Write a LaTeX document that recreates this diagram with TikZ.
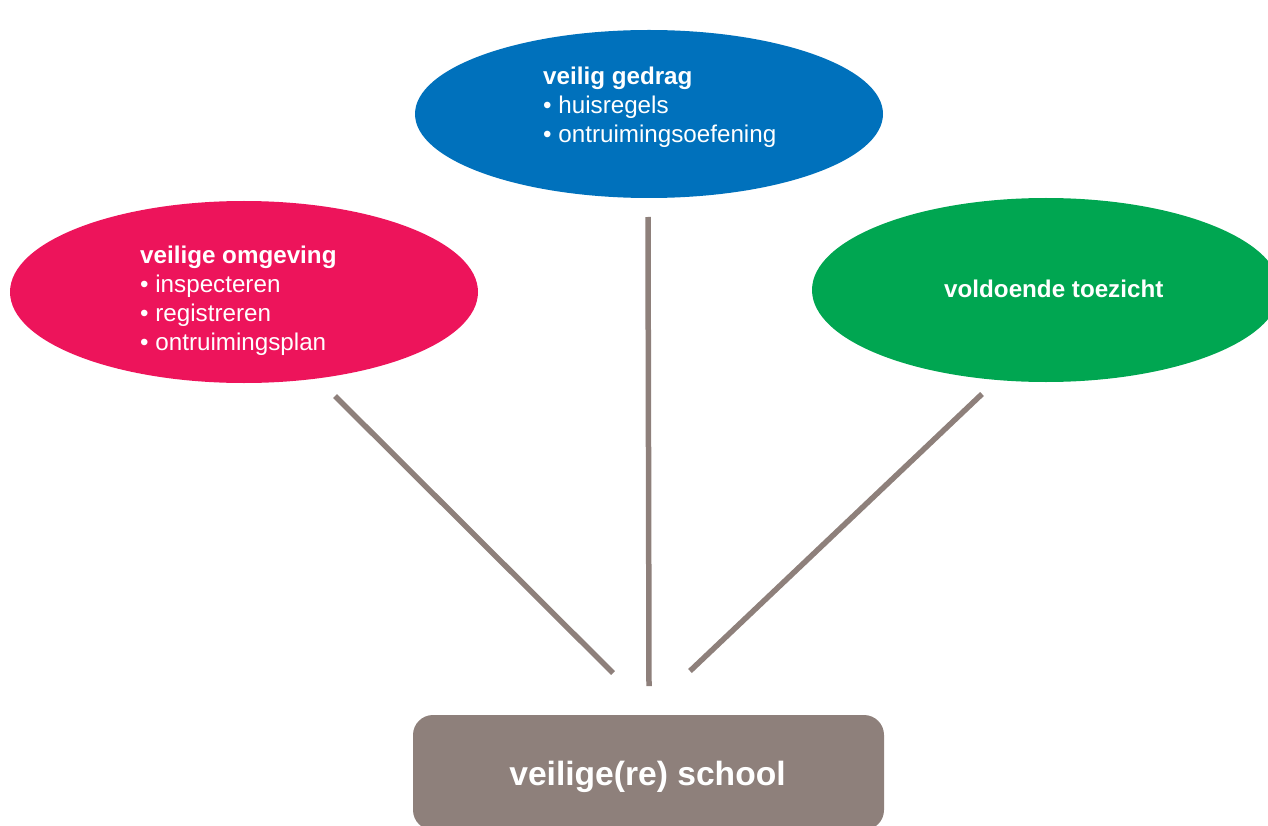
\documentclass[tikz,border=0pt]{standalone}
\usepackage{fontspec}
\setmainfont{Liberation Sans}
\usetikzlibrary{shapes.geometric}
\definecolor{cpink}{HTML}{ED145B}
\definecolor{cblue}{HTML}{0071BC}
\definecolor{cgreen}{HTML}{00A651}
\definecolor{cgrey}{HTML}{8E807B}
\tikzset{
  blob/.style={ellipse, inner sep=0pt, draw=none},
  lbl/.style={anchor=base west, inner sep=0pt, text=white, align=left,
    font=\fontsize{24.2}{29}\selectfont},
  link/.style={draw=cgrey, line width=5.5pt},
  schoolbox/.style={fill=cgrey, rounded corners=20pt, inner sep=0pt}
}
\begin{document}
\begin{tikzpicture}[x=1pt,y=-1pt]
\useasboundingbox (0,0) rectangle (1268,826);
\clip (0,0) rectangle (1268,826);
% ellipses
\node[blob, fill=cblue, minimum width=468pt, minimum height=168pt] (blue) at (649,114) {};
\node[blob, fill=cpink, minimum width=468pt, minimum height=182pt] (pink) at (244,292) {};
\node[blob, fill=cgreen, minimum width=468pt, minimum height=184pt] (green) at (1046,290) {};
% box
\path[schoolbox] (413,715) rectangle (884,830);
\node[anchor=base, inner sep=0pt, text=white, font=\fontsize{33.6}{40}\selectfont\bfseries] (school) at (647.5,785) {veilige(re) school};
% texts (base anchor = baseline of last line)
\node[lbl] (tblue) at (543,143) {\textbf{veilig gedrag}\\• huisregels\\• ontruimingsoefening};
\node[lbl] (tpink) at (140,350) {\textbf{veilige omgeving}\\• inspecteren\\• registreren\\• ontruimingsplan};
\node[lbl] (tgreen) at (944,297) {\textbf{voldoende toezicht}};
% connectors
\coordinate (a1) at (335,396); \coordinate (a2) at (613,673);
\coordinate (b1) at (648,217); \coordinate (b2) at (649,686);
\coordinate (c1) at (982,394); \coordinate (c2) at (690,671);
\draw[link] (a1) -- (a2);
\draw[link] (b1) -- (b2);
\draw[link] (c1) -- (c2);
\end{tikzpicture}
\end{document}
